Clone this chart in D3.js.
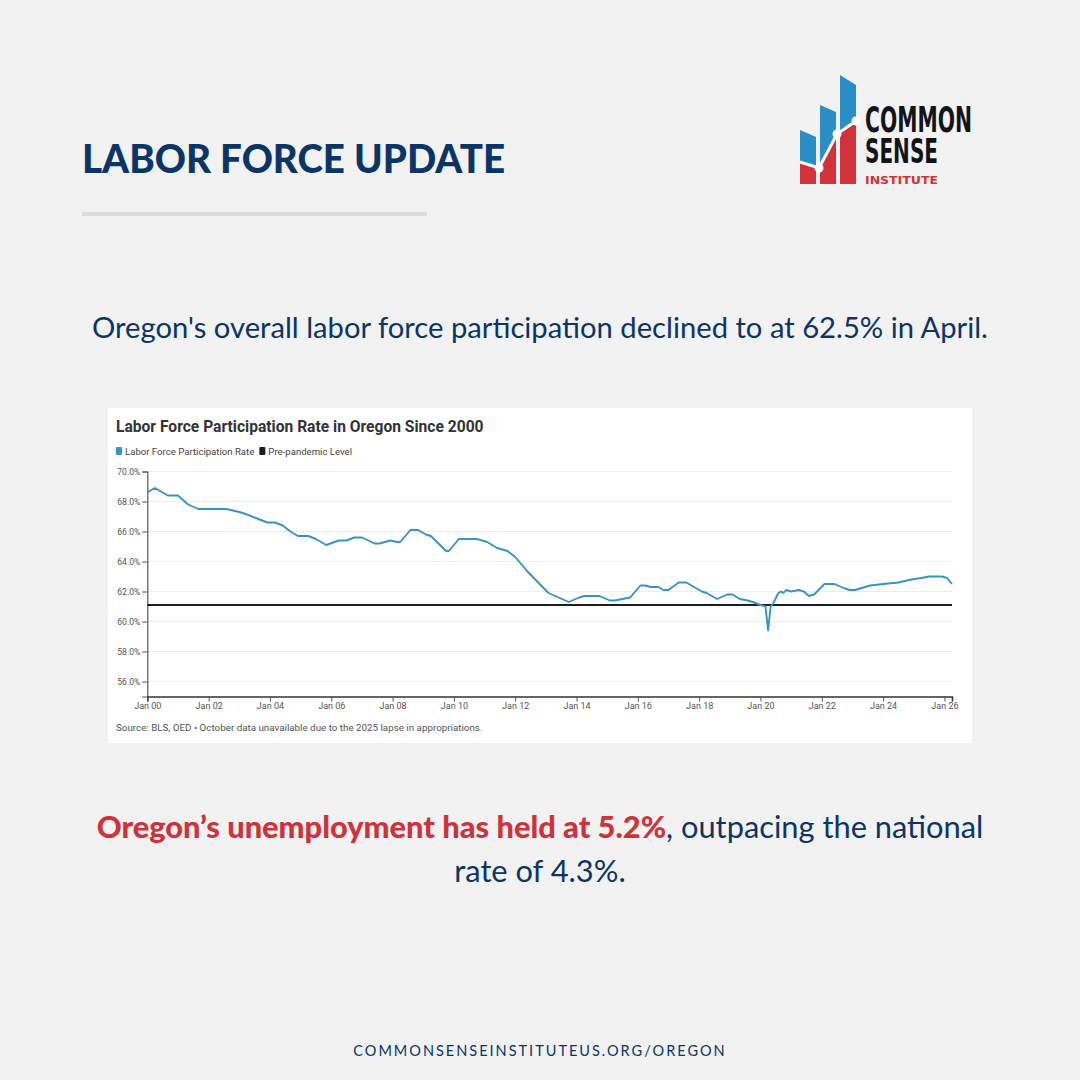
<!DOCTYPE html>
<html lang="en">
<head>
<meta charset="UTF-8">
<title>Labor Force Update</title>
<script src="https://cdn.jsdelivr.net/npm/d3@7"></script>
<style>
  body { margin: 0; background: #f2f2f2; }
  svg { display: block; }
</style>
</head>
<body>
<svg id="page" width="1080" height="1080"></svg>
<script>
// monthly readings of the participation rate (%)
const dates = [
  "2000-01","2000-04","2000-09","2001-01","2001-05","2001-09","2002-08","2003-01","2003-03","2003-09",
  "2003-12","2004-03","2004-06","2004-09","2004-12","2005-04","2005-07","2005-11","2006-04","2006-07",
  "2006-10","2007-01","2007-06","2007-08","2007-12","2008-03","2008-04","2008-08","2008-11","2009-02",
  "2009-04","2009-07","2009-10","2009-11","2010-03","2010-10","2011-02","2011-06","2011-10","2012-01",
  "2012-06","2012-10","2013-02","2013-06","2013-10","2014-02","2014-04","2014-10","2015-02","2015-04",
  "2015-07","2015-10","2016-02","2016-04","2016-06","2016-09","2016-11","2017-01","2017-05","2017-08",
  "2018-02","2018-04","2018-08","2018-12","2019-02","2019-05","2019-08","2019-10","2020-01","2020-03",
  "2020-04","2020-05","2020-06","2020-08","2020-09","2020-10","2020-11","2021-01","2021-04","2021-06",
  "2021-08","2021-10","2022-02","2022-06","2022-10","2022-12","2023-02","2023-04","2023-08","2024-01",
  "2024-07","2024-12","2025-04","2025-07","2025-12","2026-02","2026-04"
];
const rates = [
  68.6,68.9,68.4,68.4,67.8,67.5,67.5,67.3,67.2,66.8,
  66.6,66.6,66.4,66.0,65.7,65.7,65.5,65.1,65.4,65.4,
  65.6,65.6,65.2,65.2,65.4,65.3,65.3,66.1,66.1,65.8,
  65.7,65.2,64.7,64.7,65.5,65.5,65.3,64.9,64.7,64.3,
  63.3,62.6,61.9,61.6,61.3,61.6,61.7,61.7,61.4,61.4,
  61.5,61.6,62.4,62.4,62.3,62.3,62.1,62.1,62.6,62.6,
  62.0,61.9,61.5,61.8,61.8,61.5,61.4,61.3,61.1,61.0,
  59.4,61.0,61.2,61.9,62.0,61.9,62.1,62.0,62.1,62.0,
  61.7,61.8,62.5,62.5,62.2,62.1,62.1,62.2,62.4,62.5,
  62.6,62.8,62.9,63.0,63.0,62.9,62.5
];
const prePandemicLevel = 61.1;
const yTicks = [56, 58, 60, 62, 64, 66, 68, 70];
const legendItems = ["Labor Force Participation Rate", "Pre-pandemic Level"];
const legendColors = ["#3893c6", "#1b1f24"];

const navy = "#0b3467";
const red = "#cf3339";
const parse = d3.timeParse("%Y-%m");
const series = dates.map((d, i) => ({ date: parse(d), value: rates[i] }));

const svg = d3.select("#page");

// ---- header ----
svg.append("text")
  .attr("x", 82).attr("y", 173)
  .attr("textLength", 423).attr("lengthAdjust", "spacingAndGlyphs")
  .attr("font-family", "Lato, sans-serif").attr("font-weight", 900)
  .attr("font-size", 40).attr("fill", navy)
  .text("LABOR FORCE UPDATE");

svg.append("rect")
  .attr("x", 82).attr("y", 212).attr("width", 345).attr("height", 4)
  .attr("fill", "#dcdcdc");

// ---- logo ----
const logo = svg.append("g");
const bars = [[800, 130, 137], [820, 105, 112], [840, 75, 85]];
bars.forEach(([x, t1, t2]) => {
  logo.append("path")
    .attr("d", `M${x},${t1} L${x + 16},${t2} L${x + 16},184 L${x},184 Z`)
    .attr("fill", "#2b8fc7");
});
const trend = [[800, 162], [819, 168], [837, 134], [856, 121]];
const clip = logo.append("clipPath").attr("id", "barsClip");
bars.forEach(([x, t1, t2]) => {
  clip.append("rect").attr("x", x).attr("y", 60).attr("width", 16).attr("height", 124);
});
logo.append("path")
  .attr("clip-path", "url(#barsClip)")
  .attr("d", "M790,160 L800,162 L819,168 L837,134 L856,121 L870,115 L870,184 L790,184 Z")
  .attr("fill", "#d2323a");
logo.append("path")
  .attr("d", d3.line()(trend))
  .attr("fill", "none").attr("stroke", "#ffffff").attr("stroke-width", 3);
trend.slice(1).forEach(([x, y]) => {
  logo.append("circle").attr("cx", x).attr("cy", y).attr("r", 4.5).attr("fill", "#ffffff");
});
const logoFont = "'Liberation Sans Narrow', 'DejaVu Sans Condensed', sans-serif";
logo.append("text")
  .attr("x", 865).attr("y", 132).attr("textLength", 107).attr("lengthAdjust", "spacingAndGlyphs")
  .attr("font-family", logoFont)
  .attr("font-weight", 700).attr("font-size", 36).attr("fill", "#121418")
  .text("COMMON");
logo.append("text")
  .attr("x", 865).attr("y", 163).attr("textLength", 73).attr("lengthAdjust", "spacingAndGlyphs")
  .attr("font-family", logoFont)
  .attr("font-weight", 700).attr("font-size", 34).attr("fill", "#121418")
  .text("SENSE");
logo.append("text")
  .attr("x", 865).attr("y", 184).attr("textLength", 73).attr("lengthAdjust", "spacingAndGlyphs")
  .attr("font-family", logoFont)
  .attr("font-weight", 700).attr("font-size", 11).attr("fill", "#d2323a")
  .text("INSTITUTE");

// ---- intro sentence ----
svg.append("text")
  .attr("x", 92).attr("y", 338)
  .attr("textLength", 896).attr("lengthAdjust", "spacingAndGlyphs")
  .attr("font-family", "Lato, sans-serif").attr("font-size", 29.5).attr("fill", navy)
  .text("Oregon's overall labor force participation declined to at 62.5% in April.");

// ---- chart card ----
svg.append("rect")
  .attr("x", 108).attr("y", 408).attr("width", 864).attr("height", 335)
  .attr("fill", "#ffffff");

const chart = svg.append("g").attr("font-family", "Roboto, sans-serif");

chart.append("text")
  .attr("x", 116).attr("y", 432)
  .attr("font-size", 15.6).attr("font-weight", 700).attr("fill", "#333333")
  .text("Labor Force Participation Rate in Oregon Since 2000");

// legend
let lx = 116;
legendItems.forEach((name, i) => {
  chart.append("rect").attr("x", lx).attr("y", 447).attr("width", 6).attr("height", 8).attr("rx", 1)
    .attr("fill", legendColors[i]);
  const t = chart.append("text").attr("x", lx + 9).attr("y", 454.5)
    .attr("font-size", 9.6).attr("fill", "#444444").text(name);
  lx += 9 + t.node().getComputedTextLength() + 5;
});

const plot = { left: 147.3, right: 952, top: 471.5, bottom: 696.5 };
const x = d3.scaleTime()
  .domain([parse("2000-01"), parse("2026-04")])
  .range([plot.left, plot.right]);
const y = d3.scaleLinear()
  .domain([55, 70])
  .range([plot.bottom, plot.top]);

// gridlines
chart.append("g")
  .selectAll("line")
  .data(yTicks)
  .join("line")
  .attr("x1", plot.left).attr("x2", plot.right)
  .attr("y1", d => y(d)).attr("y2", d => y(d))
  .attr("stroke", "#ececec").attr("stroke-width", 1);

// y axis
const yAxis = chart.append("g")
  .attr("transform", `translate(${plot.left},0)`)
  .call(d3.axisLeft(y).tickValues(yTicks).tickSize(5).tickPadding(2)
    .tickFormat(d => d3.format(".1f")(d) + "%"));
yAxis.select(".domain").attr("stroke", "#555555").attr("stroke-width", 1.2);
yAxis.selectAll(".tick line").attr("stroke", "#555555");
yAxis.selectAll(".tick text").attr("font-size", 8.6).attr("fill", "#555555")
  .attr("font-family", "Roboto, sans-serif");

// pre-pandemic level
chart.append("line")
  .attr("x1", plot.left).attr("x2", plot.right)
  .attr("y1", y(prePandemicLevel)).attr("y2", y(prePandemicLevel))
  .attr("stroke", legendColors[1]).attr("stroke-width", 1.8);

// participation line
chart.append("path")
  .datum(series)
  .attr("d", d3.line().x(d => x(d.date)).y(d => y(d.value)))
  .attr("fill", "none")
  .attr("stroke", legendColors[0])
  .attr("stroke-width", 1.9)
  .attr("stroke-linejoin", "round");

// x axis
const xAxis = chart.append("g")
  .attr("transform", `translate(0,${plot.bottom})`)
  .call(d3.axisBottom(x).ticks(d3.timeYear.every(2)).tickSize(5).tickPadding(1)
    .tickFormat(d3.timeFormat("%b %y")));
xAxis.select(".domain").attr("stroke", "#333333").attr("stroke-width", 1.6);
xAxis.selectAll(".tick line").attr("stroke", "#555555");
xAxis.selectAll(".tick text").attr("font-size", 9).attr("fill", "#555555")
  .attr("font-family", "Roboto, sans-serif");

chart.append("text")
  .attr("x", 116).attr("y", 731)
  .attr("font-size", 9.8).attr("fill", "#555555")
  .text("Source: BLS, OED \u2022 October data unavailable due to the 2025 lapse in appropriations.");

// ---- unemployment sentence ----
const line1 = svg.append("text")
  .attr("x", 540).attr("y", 838).attr("text-anchor", "middle")
  .attr("font-family", "Lato, sans-serif").attr("font-size", 30.8).attr("fill", navy);
line1.append("tspan").attr("font-weight", 900).attr("fill", red)
  .text("Oregon\u2019s unemployment has held at 5.2%");
line1.append("tspan").text(", outpacing the national");

svg.append("text")
  .attr("x", 540).attr("y", 882).attr("text-anchor", "middle")
  .attr("font-family", "Lato, sans-serif").attr("font-size", 30.8).attr("fill", navy)
  .text("rate of 4.3%.");

// ---- footer ----
svg.append("text")
  .attr("x", 540).attr("y", 1056).attr("text-anchor", "middle")
  .attr("font-family", "Lato, sans-serif").attr("font-size", 14.5).attr("letter-spacing", 2)
  .attr("fill", navy)
  .text("COMMONSENSEINSTITUTEUS.ORG/OREGON");
</script>
</body>
</html>
